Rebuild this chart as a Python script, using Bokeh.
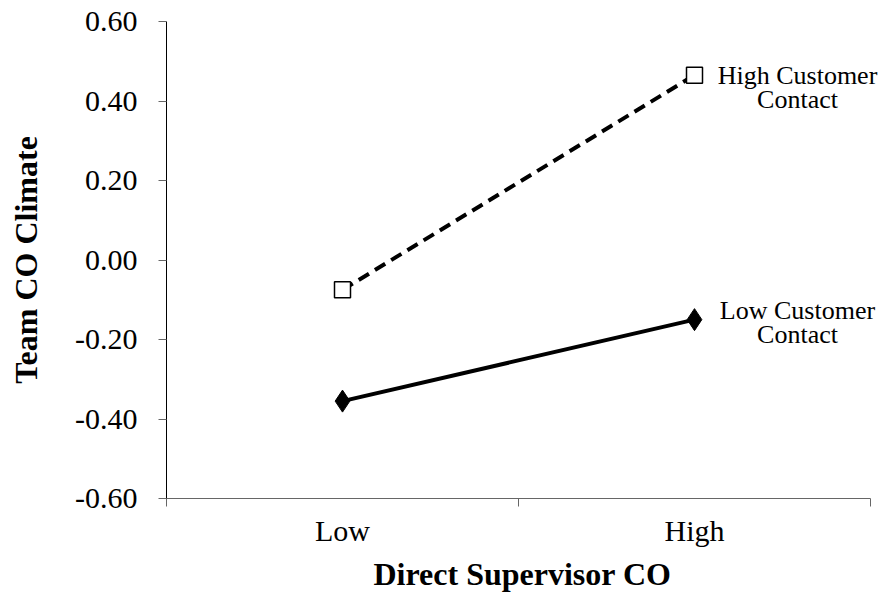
from bokeh.plotting import figure
from bokeh.models import FixedTicker, NumeralTickFormatter, Range1d, Label
from bokeh.embed import file_html
from bokeh.resources import INLINE

# Data
x_labels = ["Low", "High"]
high_contact = [-0.075, 0.465]
low_contact = [-0.355, -0.15]
series_names = ["High Customer\nContact", "Low Customer\nContact"]
y_ticks = [-0.6, -0.4, -0.2, 0.0, 0.2, 0.4, 0.6]

xs = [i + 0.5 for i in range(len(x_labels))]
n = len(x_labels)
FONT = "Liberation Serif"

# frame extends a little past the axis end so the series labels are not clipped
x_end = n * 712 / 704

p = figure(width=886, height=594, output_backend="svg", toolbar_location=None,
           x_range=Range1d(0, x_end), y_range=Range1d(-0.6, 0.6),
           min_border_left=166, min_border_right=8, min_border_top=21, min_border_bottom=95)
p.outline_line_color = None
p.grid.visible = False
p.background_fill_color = "white"
p.border_fill_color = "white"

# lines
p.line(xs, high_contact, line_color="black", line_width=4, line_dash="12 7")
p.line(xs, low_contact, line_color="black", line_width=4)
p.scatter(xs, high_contact, marker="square", size=16, fill_color="white",
          line_color="black", line_width=1.5)
p.scatter(xs, low_contact, marker="diamond", size=22, fill_color="black",
          line_color="black")

# x axis
xa = p.xaxis[0]
xa.ticker = FixedTicker(ticks=xs, minor_ticks=list(range(n + 1)))
xa.major_label_overrides = {x: lab for x, lab in zip(xs, x_labels)}
xa.major_tick_out = 0
xa.major_tick_in = 0
xa.minor_tick_out = 8
xa.minor_tick_in = 0
xa.minor_tick_line_color = "#666666"
xa.axis_line_color = "#666666"
xa.bounds = (0, n)
xa.major_label_text_font = FONT
xa.major_label_text_font_size = "30px"
xa.major_label_text_color = "black"
xa.major_label_standoff = 7
xa.axis_label = "Direct Supervisor CO"
xa.axis_label_text_font = FONT
xa.axis_label_text_font_style = "bold"
xa.axis_label_text_font_size = "32px"
xa.axis_label_text_color = "black"
xa.axis_label_text_line_height = 1.0
xa.axis_label_standoff = 6

# y axis
ya = p.yaxis[0]
ya.ticker = FixedTicker(ticks=y_ticks, minor_ticks=[])
ya.formatter = NumeralTickFormatter(format="0.00")
ya.major_tick_out = 8
ya.major_tick_in = 0
ya.major_tick_line_color = "#666666"
ya.axis_line_color = "black"
ya.major_label_text_font = FONT
ya.major_label_text_font_size = "30px"
ya.major_label_text_color = "black"
ya.major_label_standoff = 21
ya.axis_label = "Team CO Climate"
ya.axis_label_text_font = FONT
ya.axis_label_text_font_style = "bold"
ya.axis_label_text_font_size = "32px"
ya.axis_label_text_color = "black"
ya.axis_label_standoff = 28

# series labels
for vals, name, dy in [(high_contact, series_names[0], 0), (low_contact, series_names[1], 9)]:
    lines = name.split("\n")
    for k, t in enumerate(lines):
        p.add_layout(Label(x=xs[-1], y=vals[-1], x_offset=103, y_offset=dy - 24 * k,
                           text=t, text_align="center", text_baseline="middle",
                           text_font=FONT, text_font_size="26px", text_color="black"))

open("out.html", "w").write(file_html(p, INLINE))
